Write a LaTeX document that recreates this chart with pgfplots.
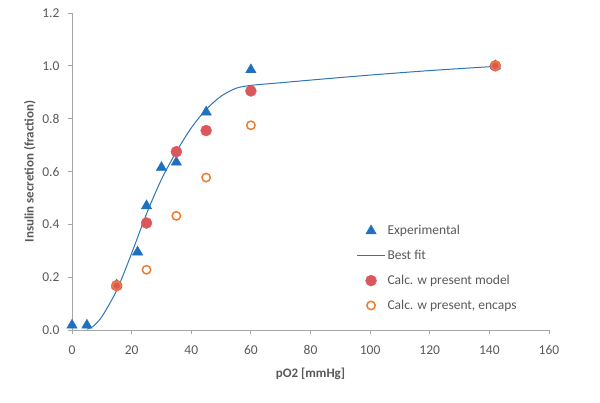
\documentclass[border=0pt]{standalone}
\usepackage{pgfplots}
\pgfplotsset{compat=1.18}
\usepackage{fontspec}
\setmainfont{Carlito}
\definecolor{expblue}{RGB}{31,112,190}
\definecolor{fitblue}{RGB}{46,117,182}
\definecolor{calcred}{RGB}{218,88,92}
\definecolor{calcorange}{RGB}{237,125,49}
\definecolor{axgray}{RGB}{166,166,166}
\definecolor{txtgray}{RGB}{89,89,89}
\pgfplotsset{longline/.style={legend image code/.code={\draw[##1] (-0.19cm,0cm) -- (0.79cm,0cm);}}}
\begin{document}
\begin{tikzpicture}
\useasboundingbox (-72pt,-73pt) rectangle (528pt,330pt);
\begin{axis}[
  scale only axis, width=477pt, height=317pt,
  xmin=0, xmax=160, ymin=0, ymax=1.2,
  xtick={0,20,...,160}, ytick={0,0.2,...,1.2},
  axis lines*=left,
  axis line style={axgray, line width=0.8pt},
  tick style={axgray, line width=0.8pt},
  tick align=outside, major tick length=4pt,
  y tick label style={xshift=-5pt, /pgf/number format/.cd, fixed, fixed zerofill, precision=1},
  x tick label style={yshift=-8pt},
  /pgf/number format/assume math mode=true,
  tick label style={font=\fontsize{13.5}{15}\selectfont, text=txtgray},
  xlabel={\textbf{pO2 [mmHg]}},
  ylabel={\textbf{Insulin secretion (fraction)}},
  label style={font=\fontsize{13}{15}\selectfont, text=txtgray},
  xlabel style={yshift=-6pt},
  legend cell align=left,
  legend style={draw=none, fill=none, at={(0.59,0.343)}, anchor=north west,
    font=\fontsize{13.5}{15}\selectfont, text=txtgray,
    row sep=10pt},
]
\addplot[only marks, mark=triangle*, mark size=6pt, color=expblue]
  coordinates {(0,0.018) (5,0.018) (15,0.17) (22,0.295) (25,0.47) (30,0.615)
               (35,0.635) (45,0.825) (60,0.985) (142,1.0)};
\addlegendentry{Experimental}
\addplot[fitblue, line width=1pt, smooth, tension=0.45, longline]
  coordinates {(5,0.003) (7,0.013) (10,0.05) (15,0.15) (20,0.29) (25,0.44)
               (30,0.57) (35,0.675) (40,0.765) (45,0.835) (50,0.885) (55,0.915)
               (60,0.926) (70,0.936) (80,0.946) (100,0.965) (120,0.982) (142,0.998)};
\addlegendentry{Best fit}
\addplot[only marks, mark=*, mark size=5.5pt, color=calcred]
  coordinates {(15,0.168) (25,0.405) (35,0.675) (45,0.755) (60,0.905) (142,1.0)};
\addlegendentry{Calc. w present model}
\addplot[only marks, mark=o, mark size=4.2pt, color=calcorange, mark options={line width=1.5pt}]
  coordinates {(15,0.168) (25,0.228) (35,0.432) (45,0.577) (60,0.775) (142,1.0)};
\addlegendentry{Calc. w present, encaps}
\end{axis}
\end{tikzpicture}
\end{document}
